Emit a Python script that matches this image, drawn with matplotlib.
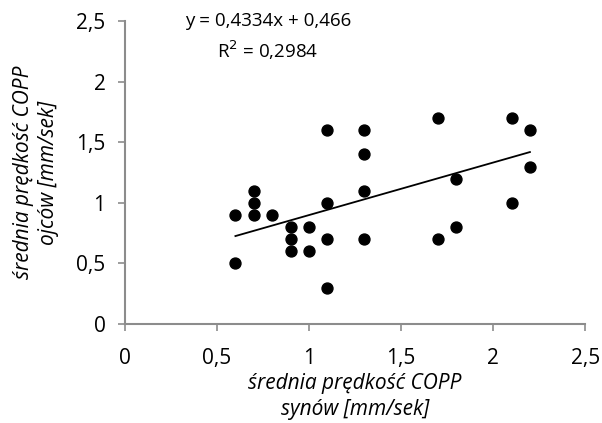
import matplotlib.pyplot as plt
import numpy as np

# srednia predkosc COPP: synowie (x) vs ojcowie (y)
synowie = [0.6, 0.6, 0.7, 0.7, 0.7, 0.8, 0.9, 0.9, 0.9, 1.0, 1.0, 1.1, 1.1, 1.1,
           1.1, 1.3, 1.3, 1.3, 1.3, 1.7, 1.7, 1.8, 1.8, 2.1, 2.1, 2.2, 2.2]
ojcowie = [0.9, 0.5, 1.1, 1.0, 0.9, 0.9, 0.8, 0.7, 0.6, 0.8, 0.6, 1.6, 1.0, 0.7,
           0.3, 1.6, 1.4, 1.1, 0.7, 1.7, 0.7, 1.2, 0.8, 1.7, 1.0, 1.6, 1.3]
slope = 0.4334
intercept = 0.466
r2 = 0.2984

plt.rcParams['font.family'] = ['Open Sans', 'DejaVu Sans']
gray = '#8c8c8c'

fig = plt.figure(figsize=(6.02, 4.23), dpi=100)
ax = fig.add_axes([0.2076, 0.234, 0.7644, 0.716])

ax.scatter(synowie, ojcowie, s=62, color='black', zorder=3)

# linia trendu
xs = np.array([min(synowie), max(synowie)])
ax.plot(xs, slope * xs + intercept, color='black', lw=1.3)

ax.set_xlim(0, 2.5)
ax.set_ylim(0, 2.5)
ticks = [0, 0.5, 1, 1.5, 2, 2.5]
labels = ['0', '0,5', '1', '1,5', '2', '2,5']
ax.set_xticks(ticks, labels)
ax.set_yticks(ticks, labels)
ax.tick_params(axis='both', direction='out', length=5, width=1.2, color=gray,
               labelsize=15)
ax.tick_params(axis='x', pad=12)
ax.tick_params(axis='y', pad=9)

for s in ['top', 'right']:
    ax.spines[s].set_visible(False)
for s in ['left', 'bottom']:
    ax.spines[s].set_color(gray)
    ax.spines[s].set_linewidth(1.5)

ax.set_xlabel('średnia prędkość COPP\nsynów [mm/sek]', fontsize=15,
              style='italic', labelpad=3, linespacing=1.3)
ax.set_ylabel('średnia prędkość COPP\nojców [mm/sek]', fontsize=15,
              style='italic', labelpad=12, linespacing=1.3)

eq = 'y = {}x + {}'.format(str(slope).replace('.', ','), str(intercept).replace('.', ','))
fig.text(0.445, 0.951, eq, fontsize=13.5, ha='center', va='center')
fig.text(0.445, 0.882, 'R$^2$ = ' + str(r2).replace('.', ','), fontsize=13.5,
         ha='center', va='center')

fig.savefig('out.png', dpi=100)
